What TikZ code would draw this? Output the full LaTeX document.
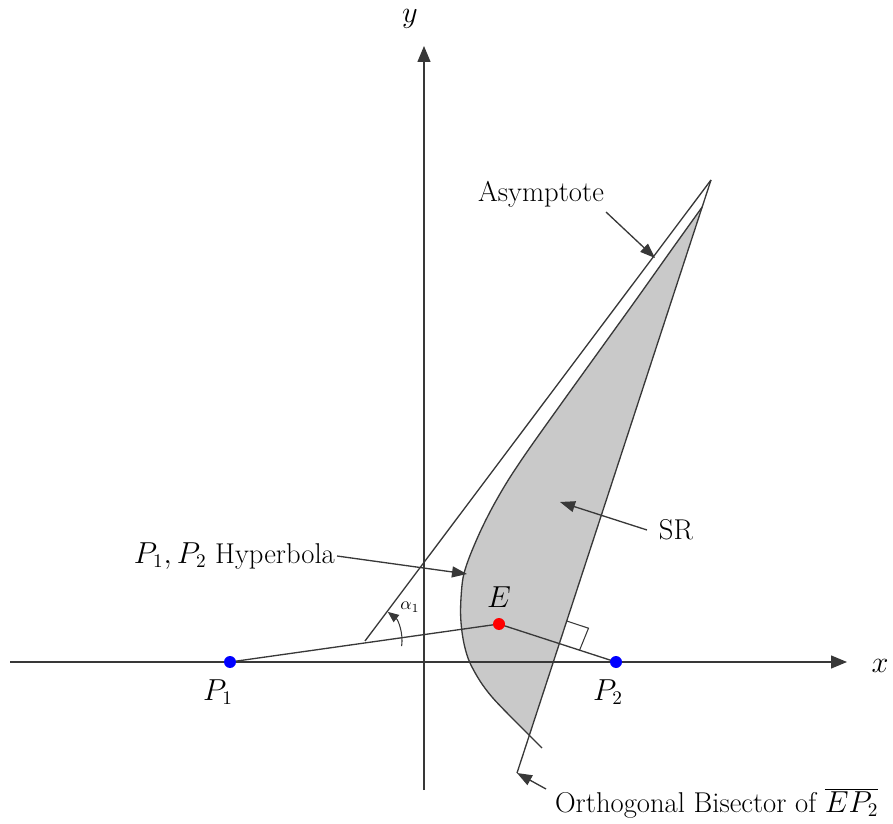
\documentclass[tikz,border=0pt]{standalone}
\usetikzlibrary{arrows.meta}
\begin{document}
\begin{tikzpicture}[x=0.02cm,y=-0.02cm,
  ln/.style={line width=0.75pt,draw=black!78},
  axis/.style={line width=0.75pt,draw=black!78,-{Triangle[length=0.32cm,width=0.26cm]}},
  pointer/.style={line width=0.75pt,draw=black!78,-{Triangle[length=0.3cm,width=0.22cm]}},
  dot/.style={circle,inner sep=0pt,minimum size=0.24cm},
  lbl/.style={font=\fontsize{16.3}{19}\selectfont,inner sep=1pt}]
\useasboundingbox (0,0) rectangle (893,824);
\def\hyppts{(702.2,207) (671.4,250) (635.9,300) (599.9,350) (563.9,400) (528.3,450) (508.3,480) (492.6,507) (479.6,533) (468.3,560) (463,578) (461,598) (460.6,615) (462,632) (465,648) (470,663) (480,681) (492,697) (510,716) (527,733) (542,748)}
% key points
\coordinate (O) at (424,662);
\coordinate (P1) at (230,662);
\coordinate (P2) at (616,662);
\coordinate (E) at (499,624);
\coordinate (A0) at (365,641);
\coordinate (Atop) at (711,180);
\coordinate (Bbot) at (517,773);
% shaded region
\begin{scope}
  \clip (711,180) -- (517,773) -- (380,773) -- (380,180) -- cycle;
  \fill[black!21] plot[smooth,tension=0.55] coordinates {\hyppts} -- cycle;
\end{scope}
% hyperbola
\draw[ln] plot[smooth,tension=0.55] coordinates {\hyppts};
% axes
\draw[axis] (10,662) -- (847,662);
\draw[axis] (424,790) -- (424,46);
\node[lbl,font=\fontsize{17}{20}\selectfont] (xl) at (880,666) {$x$};
\node[lbl,font=\fontsize{17}{20}\selectfont] (yl) at (410,19) {$y$};
% asymptote and bisector
\draw[ln] (A0) -- (Atop);
\draw[ln] (Bbot) -- (Atop);
% lines from E
\draw[ln] (P1) -- (E) -- (P2);
% right angle mark
\draw[ln,line width=0.6pt] (566.7,621) -- (588.5,628.2) -- (579.6,650.1);
% angle alpha1
\draw[line width=0.6pt,draw=black!78,-{Triangle[length=0.22cm,width=0.18cm]}] ([shift={(8:37)}]A0) arc[start angle=8,end angle=-52,radius=37];
\node[lbl,font=\fontsize{10}{12}\selectfont] (al) at (410,607) {$\alpha_1$};
% dots
\node[dot,fill=blue] (p1) at (P1) {};
\node[dot,fill=blue] (p2) at (P2) {};
\node[dot,fill=red] (e) at (E) {};
\node[lbl] (p1l) at (218,692) {$P_1$};
\node[lbl] (p2l) at (608,692) {$P_2$};
\node[lbl] (el) at (499,597) {$E$};
% labels with pointers
\node[lbl] (asy) at (541,194) {Asymptote};
\coordinate (asyT) at (606,212);
\coordinate (asyH) at (655,258);
\draw[pointer] (asyT) -- (asyH);
\node[lbl] (sr) at (676,530) {SR};
\coordinate (srT) at (647,530);
\coordinate (srH) at (560,502);
\draw[pointer] (srT) -- (srH);
\node[lbl,anchor=east] (hyp) at (337,556) {$P_1, P_2$ Hyperbola};
\coordinate (hypH) at (467,574);
\draw[pointer] (hyp.east) -- (hypH);
\node[lbl,anchor=west] (bis) at (553,803) {Orthogonal Bisector of $\overline{EP_2}$};
\coordinate (bisT) at (546,789);
\draw[pointer] (bisT) -- (Bbot);
\end{tikzpicture}
\end{document}
